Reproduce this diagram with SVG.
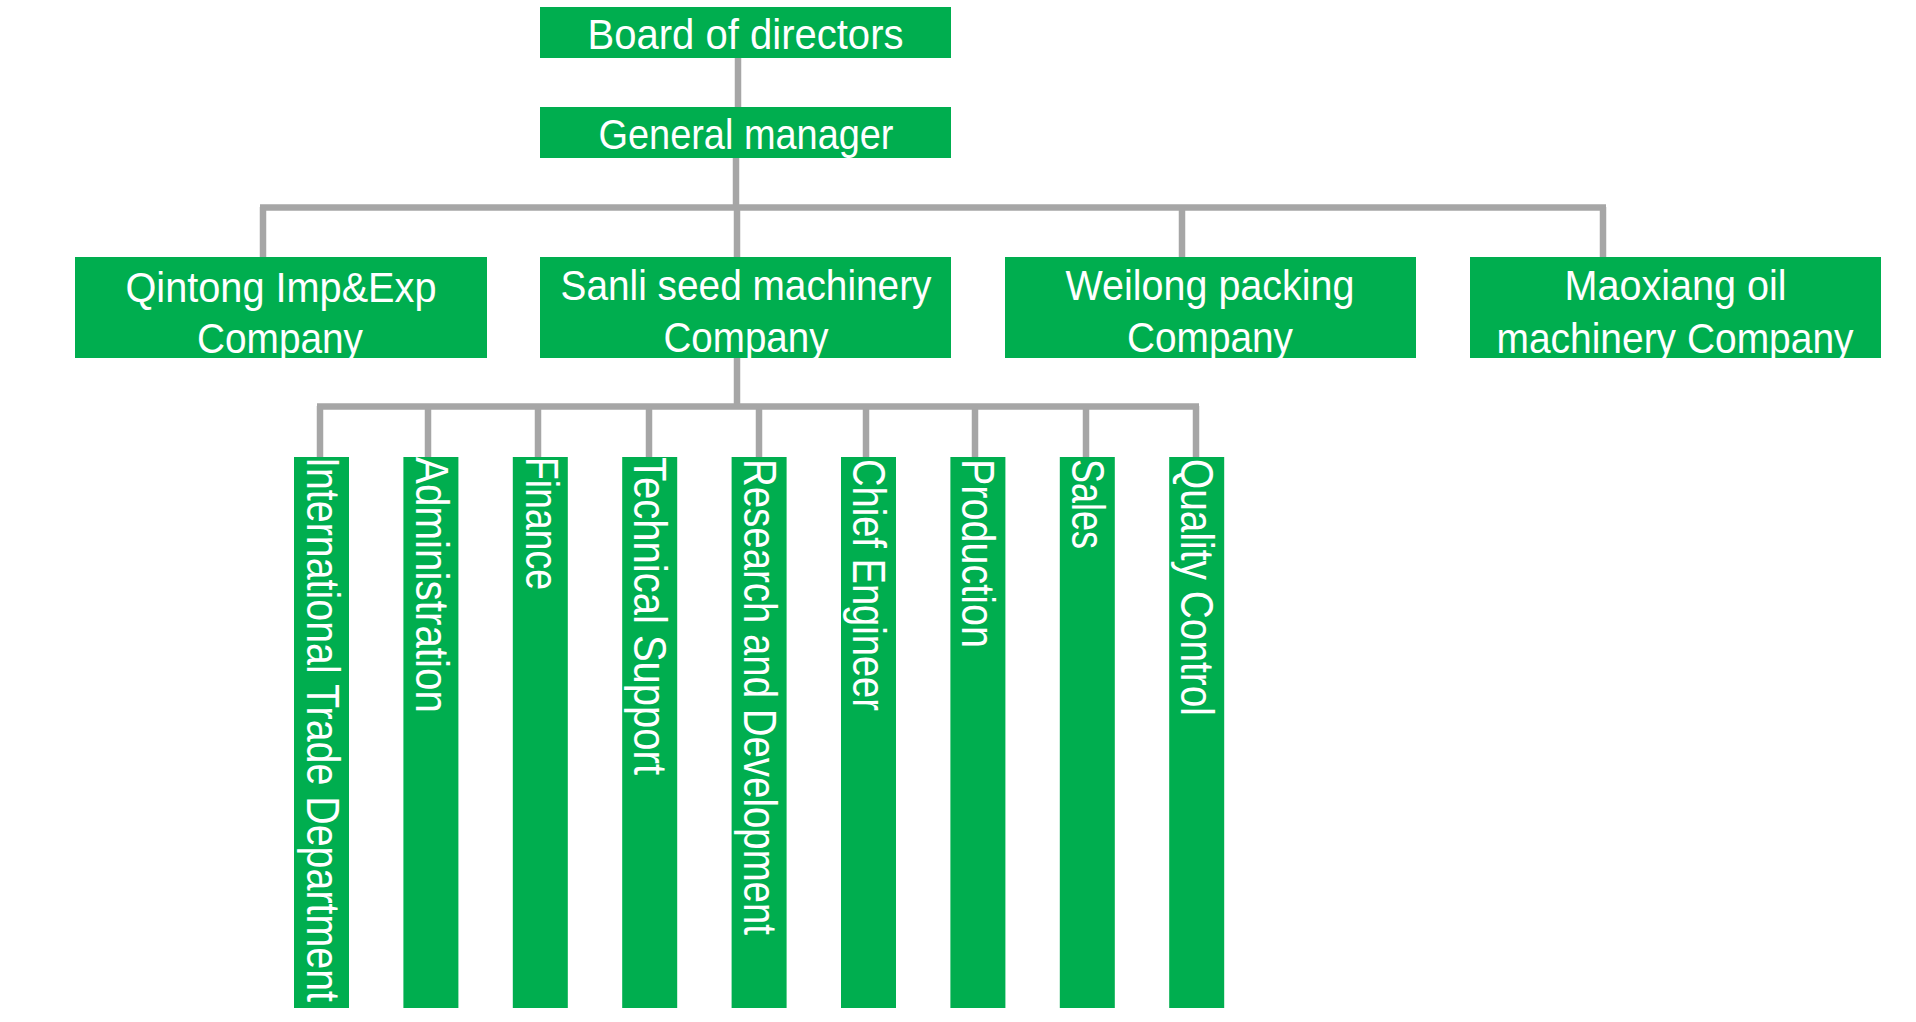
<svg xmlns="http://www.w3.org/2000/svg" width="1916" height="1022" viewBox="0 0 1916 1022">
<style>
.box{fill:#00AE4F}
.conn{stroke:#A6A6A6;stroke-width:6.5;fill:none;stroke-linecap:butt}
.h{font-family:"Liberation Sans",Arial,sans-serif;font-size:43px;fill:#FFFFFF;text-anchor:middle}
.v{font-family:"Liberation Sans",Arial,sans-serif;font-size:46px;fill:#FFFFFF;text-anchor:start}
</style>
<rect width="1916" height="1022" fill="#FFFFFF"/>
<g id="connectors">
<path class="conn" d="M738 58V107"/>
<path class="conn" d="M736 158V207"/>
<path class="conn" d="M260 207.5H1606"/>
<path class="conn" d="M263 207V257M737 207V257M1182 207V257M1603 207V257"/>
<path class="conn" d="M737 358V407"/>
<path class="conn" d="M317 406.5H1199"/>
<path class="conn" d="M320 406V457M428 406V457M538 406V457M649 406V457M759 406V457M866 406V457M975 406V457M1086 406V457M1196 406V457"/>
</g>
<g id="board">
<rect class="box" x="540" y="7" width="411" height="51"/>
<text class="h" x="745.5" y="49" textLength="316" lengthAdjust="spacingAndGlyphs">Board of directors</text>
</g>
<g id="gm">
<rect class="box" x="540" y="107" width="411" height="51"/>
<text class="h" x="746" y="149" textLength="295" lengthAdjust="spacingAndGlyphs">General manager</text>
</g>
<g id="qintong">
<rect class="box" x="75" y="257" width="412" height="101"/>
<text class="h" x="281" y="302" textLength="311" lengthAdjust="spacingAndGlyphs">Qintong Imp&amp;Exp</text>
<text class="h" x="280" y="353" textLength="166" lengthAdjust="spacingAndGlyphs">Company</text>
</g>
<g id="sanli">
<rect class="box" x="540" y="257" width="411" height="101"/>
<text class="h" x="746" y="300" textLength="371" lengthAdjust="spacingAndGlyphs">Sanli seed machinery</text>
<text class="h" x="746" y="352" textLength="165" lengthAdjust="spacingAndGlyphs">Company</text>
</g>
<g id="weilong">
<rect class="box" x="1005" y="257" width="411" height="101"/>
<text class="h" x="1210" y="300" textLength="289" lengthAdjust="spacingAndGlyphs">Weilong packing</text>
<text class="h" x="1210" y="352" textLength="166" lengthAdjust="spacingAndGlyphs">Company</text>
</g>
<g id="maoxiang">
<rect class="box" x="1470" y="257" width="411" height="101"/>
<text class="h" x="1675.5" y="300" textLength="222" lengthAdjust="spacingAndGlyphs">Maoxiang oil</text>
<text class="h" x="1675" y="353" textLength="357" lengthAdjust="spacingAndGlyphs">machinery Company</text>
</g>
<g id="dept-international">
<rect class="box" x="294" y="457" width="55" height="551"/>
<text class="v" transform="translate(307 457) rotate(90)" textLength="545" lengthAdjust="spacingAndGlyphs">International Trade Department</text>
</g>
<g id="dept-administration">
<rect class="box" x="403.4" y="457" width="55" height="551"/>
<text class="v" transform="translate(416 457) rotate(90)" textLength="256" lengthAdjust="spacingAndGlyphs">Administration</text>
</g>
<g id="dept-finance">
<rect class="box" x="512.8" y="457" width="55" height="551"/>
<text class="v" transform="translate(526 457) rotate(90)" textLength="133" lengthAdjust="spacingAndGlyphs">Finance</text>
</g>
<g id="dept-technical">
<rect class="box" x="622.2" y="457" width="55" height="551"/>
<text class="v" transform="translate(634 457) rotate(90)" textLength="318" lengthAdjust="spacingAndGlyphs">Technical Support</text>
</g>
<g id="dept-rnd">
<rect class="box" x="731.6" y="457" width="55" height="551"/>
<text class="v" transform="translate(744 459) rotate(90)" textLength="476" lengthAdjust="spacingAndGlyphs">Research and Development</text>
</g>
<g id="dept-chief">
<rect class="box" x="841" y="457" width="55" height="551"/>
<text class="v" transform="translate(853 459) rotate(90)" textLength="252" lengthAdjust="spacingAndGlyphs">Chief Engineer</text>
</g>
<g id="dept-production">
<rect class="box" x="950.4" y="457" width="55" height="551"/>
<text class="v" transform="translate(962 459) rotate(90)" textLength="189" lengthAdjust="spacingAndGlyphs">Production</text>
</g>
<g id="dept-sales">
<rect class="box" x="1059.8" y="457" width="55" height="551"/>
<text class="v" transform="translate(1072 459) rotate(90)" textLength="90" lengthAdjust="spacingAndGlyphs">Sales</text>
</g>
<g id="dept-quality">
<rect class="box" x="1169.2" y="457" width="55" height="551"/>
<text class="v" transform="translate(1181 459) rotate(90)" textLength="257" lengthAdjust="spacingAndGlyphs">Quality Control</text>
</g>
</svg>
